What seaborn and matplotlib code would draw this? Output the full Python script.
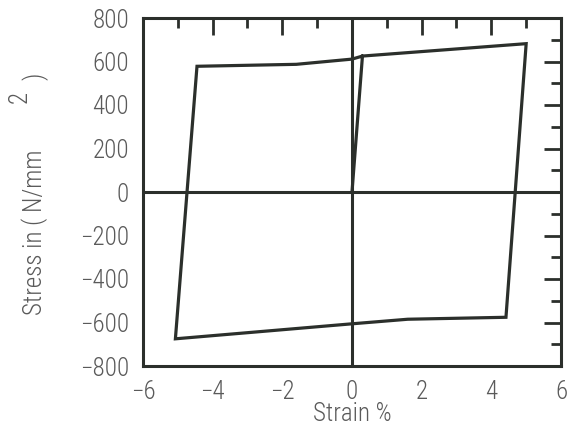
import matplotlib
matplotlib.use("Agg")
import matplotlib.pyplot as plt
import seaborn as sns
from matplotlib.ticker import MultipleLocator

# Hysteresis loop vertices (strain in %, stress in N/mm^2), in drawing order
strain = [0.0, 0.30, 5.00, 4.42, 1.60, 0.0, -5.07, -4.45, -1.60, 0.0, 0.30]
stress = [0, 625, 682, -576, -585, -606, -675, 578, 587, 611, 625]

x_ticks = [-6, -4, -2, 0, 2, 4, 6]
y_ticks = [-800, -600, -400, -200, 0, 200, 400, 600, 800]

LINE = "#2b2f2b"
TEXT = "#5a5a5a"

sns.set_theme(style="white")
plt.rcParams["font.family"] = ["Roboto Condensed", "DejaVu Sans"]
plt.rcParams["font.weight"] = 300
plt.rcParams["axes.labelweight"] = 300

W, H = 567, 426
fig = plt.figure(figsize=(W / 100, H / 100), dpi=100)
fig.patch.set_facecolor("white")
ax = fig.add_axes([143 / W, (H - 366) / H, 418 / W, 348 / H])
ax.set_facecolor("white")

# zero reference lines
ax.axhline(0, color=LINE, lw=2.2, zorder=2)
ax.axvline(0, color=LINE, lw=2.2, zorder=2)

sns.lineplot(x=strain, y=stress, sort=False, estimator=None,
             color=LINE, lw=2.3, ax=ax, zorder=3)
for ln in ax.lines:
    ln.set_solid_joinstyle("miter")

ax.set_xlim(-6, 6)
ax.set_ylim(-800, 800)
ax.set_xticks(x_ticks)
ax.set_yticks(y_ticks)
ax.xaxis.set_minor_locator(MultipleLocator(1))
ax.yaxis.set_minor_locator(MultipleLocator(100))
ax.tick_params(which="both", direction="in", top=True, right=True,
               width=2.0, color=LINE, labelcolor=TEXT, labelsize=18, pad=10)
ax.tick_params(which="major", length=12)
ax.tick_params(which="minor", length=7)
for sp in ax.spines.values():
    sp.set_linewidth(2.2)
    sp.set_color(LINE)
    sp.set_visible(True)

ax.set_xlabel("Strain %", fontsize=18, color=TEXT, fontweight=300)
ax.xaxis.label.set(ha="center", va="baseline")
ax.xaxis.set_label_coords(0.5, (366 - 421) / 348)

ax.set_ylabel("Stress in ( N/mm", fontsize=18, color=TEXT, fontweight=300)
ax.yaxis.label.set(ha="left", va="baseline", rotation_mode="anchor")
ax.yaxis.set_label_coords((42 - 143) / 418, (366 - 315) / 348)
ax.text((27 - 143) / 418, (366 - 103) / 348, "2", fontsize=18, color=TEXT,
        fontweight=300, rotation=90, ha="left", va="baseline",
        rotation_mode="anchor", transform=ax.transAxes, clip_on=False)
ax.text((42 - 143) / 418, (366 - 80) / 348, ")", fontsize=18, color=TEXT,
        fontweight=300, rotation=90, ha="left", va="baseline",
        rotation_mode="anchor", transform=ax.transAxes, clip_on=False)

fig.savefig("out.png", dpi=100)
